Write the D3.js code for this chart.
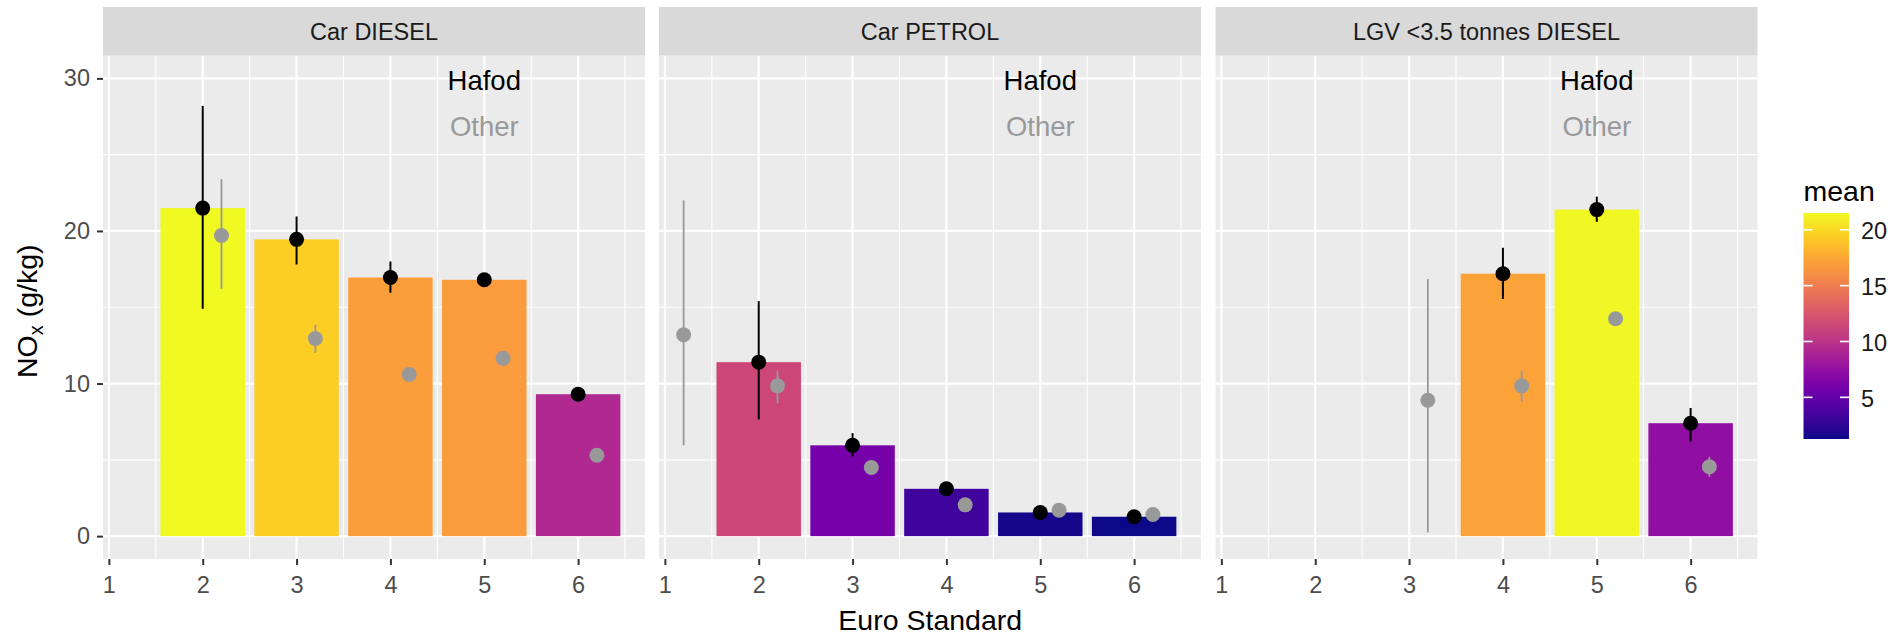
<!DOCTYPE html>
<html>
<head>
<meta charset="utf-8">
<script src="https://cdn.jsdelivr.net/npm/d3@7"></script>
<style>
  body { margin: 0; background: #fff; }
  text { font-family: "Liberation Sans", Arial, sans-serif; }
</style>
</head>
<body>
<svg id="chart" width="1902" height="635"></svg>
<script>
var facets = ['Car DIESEL', 'Car PETROL', 'LGV <3.5 tonnes DIESEL']
var euroStd = [1, 2, 3, 4, 5, 6]

// one row per facet, one entry per Euro standard, null = no data
var hafodMean = [
  [null, 21.5, 19.45, 16.95, 16.8, 9.3],
  [null, 11.4, 5.95, 3.1, 1.55, 1.27],
  [null, null, null, 17.2, 21.4, 7.4]
]
var hafodLow = [
  [null, 14.9, 17.8, 15.95, 16.5, 8.9],
  [null, 7.65, 5.2, 2.85, 1.4, 1.12],
  [null, null, null, 15.55, 20.6, 6.2]
]
var hafodHigh = [
  [null, 28.2, 20.95, 18.0, 17.1, 9.7],
  [null, 15.4, 6.75, 3.35, 1.7, 1.42],
  [null, null, null, 18.9, 22.25, 8.4]
]
var otherMean = [
  [null, 19.7, 12.95, 10.6, 11.65, 5.3],
  [13.2, 9.85, 4.5, 2.05, 1.7, 1.42],
  [null, null, 8.9, 9.85, 14.25, 4.55]
]
var otherLow = [
  [null, 16.2, 12.0, 10.35, 11.4, 5.05],
  [5.95, 8.7, 4.3, 1.85, 1.52, 1.27],
  [null, null, 0.25, 8.8, 14.0, 3.9]
]
var otherHigh = [
  [null, 23.4, 13.85, 10.85, 11.9, 5.55],
  [22.0, 10.85, 4.7, 2.25, 1.88, 1.57],
  [null, null, 16.85, 10.85, 14.5, 5.2]
]
var yTicks = [0, 10, 20, 30]
var yMinor = [5, 15, 25]
var xMinor = [1.5, 2.5, 3.5, 4.5, 5.5, 6.5]
var legendTicks = [5, 10, 15, 20]

var panelX = [103, 659, 1215.5]
var panelW = 542
var panelTop = 55.5
var panelBottom = 559
var stripTop = 7
var grey = '#999999'

var svg = d3.select('#chart')

var x = d3.scaleLinear().domain([0.9375, 6.7125]).range([0, panelW])
var y = d3.scaleLinear().domain([-1.5, 31.5]).range([panelBottom, panelTop])

var allMeans = d3.merge(hafodMean).filter(function (d) { return d !== null })
var meanExtent = d3.extent(allMeans)
var fill = d3.scaleSequential(d3.interpolatePlasma).domain(meanExtent)

function rows (i, means, lows, highs) {
  var out = []
  euroStd.forEach(function (e, j) {
    if (means[i][j] !== null) {
      out.push({ e: e, mean: means[i][j], lo: lows[i][j], hi: highs[i][j] })
    }
  })
  return out
}

facets.forEach(function (name, i) {
  var g = svg.append('g').attr('transform', 'translate(' + panelX[i] + ',0)')

  g.append('rect')
    .attr('x', 0).attr('y', panelTop)
    .attr('width', panelW).attr('height', panelBottom - panelTop)
    .attr('fill', '#EBEBEB')

  // minor grid
  g.selectAll('.vminor').data(xMinor).enter().append('line')
    .attr('x1', function (d) { return x(d) }).attr('x2', function (d) { return x(d) })
    .attr('y1', panelTop).attr('y2', panelBottom)
    .attr('stroke', '#fff').attr('stroke-width', 1.1)
  g.selectAll('.hminor').data(yMinor).enter().append('line')
    .attr('x1', 0).attr('x2', panelW)
    .attr('y1', function (d) { return y(d) }).attr('y2', function (d) { return y(d) })
    .attr('stroke', '#fff').attr('stroke-width', 1.1)
  // major grid
  g.selectAll('.vmajor').data(euroStd).enter().append('line')
    .attr('x1', function (d) { return x(d) }).attr('x2', function (d) { return x(d) })
    .attr('y1', panelTop).attr('y2', panelBottom)
    .attr('stroke', '#fff').attr('stroke-width', 2.2)
  g.selectAll('.hmajor').data(yTicks).enter().append('line')
    .attr('x1', 0).attr('x2', panelW)
    .attr('y1', function (d) { return y(d) }).attr('y2', function (d) { return y(d) })
    .attr('stroke', '#fff').attr('stroke-width', 2.2)

  // strip
  g.append('rect')
    .attr('x', 0).attr('y', stripTop)
    .attr('width', panelW).attr('height', panelTop - stripTop)
    .attr('fill', '#D9D9D9')
  g.append('text')
    .attr('x', panelW / 2).attr('y', 40)
    .attr('text-anchor', 'middle')
    .style('font-size', '23.5px')
    .attr('fill', '#1A1A1A')
    .text(name)

  // bars
  var hafod = rows(i, hafodMean, hafodLow, hafodHigh)
  var other = rows(i, otherMean, otherLow, otherHigh)

  g.selectAll('.bar').data(hafod).enter().append('rect')
    .attr('x', function (d) { return x(d.e - 0.45) })
    .attr('width', function (d) { return x(d.e + 0.45) - x(d.e - 0.45) })
    .attr('y', function (d) { return y(d.mean) })
    .attr('height', function (d) { return y(0) - y(d.mean) })
    .attr('fill', function (d) { return fill(d.mean) })

  // other pointranges
  g.selectAll('.oline').data(other).enter().append('line')
    .attr('x1', function (d) { return x(d.e + 0.2) }).attr('x2', function (d) { return x(d.e + 0.2) })
    .attr('y1', function (d) { return y(d.lo) }).attr('y2', function (d) { return y(d.hi) })
    .attr('stroke', grey).attr('stroke-width', 1.8)
  g.selectAll('.opt').data(other).enter().append('circle')
    .attr('cx', function (d) { return x(d.e + 0.2) })
    .attr('cy', function (d) { return y(d.mean) })
    .attr('r', 7.5)
    .attr('fill', grey)

  // hafod pointranges
  g.selectAll('.hline').data(hafod).enter().append('line')
    .attr('x1', function (d) { return x(d.e) }).attr('x2', function (d) { return x(d.e) })
    .attr('y1', function (d) { return y(d.lo) }).attr('y2', function (d) { return y(d.hi) })
    .attr('stroke', '#000').attr('stroke-width', 2)
  g.selectAll('.hpt').data(hafod).enter().append('circle')
    .attr('cx', function (d) { return x(d.e) })
    .attr('cy', function (d) { return y(d.mean) })
    .attr('r', 7.5)
    .attr('fill', '#000')

  // labels
  g.append('text')
    .attr('x', x(5)).attr('y', y(30) + 12)
    .attr('text-anchor', 'middle')
    .style('font-size', '27.5px')
    .attr('fill', '#000')
    .text('Hafod')
  g.append('text')
    .attr('x', x(5)).attr('y', y(27) + 12)
    .attr('text-anchor', 'middle')
    .style('font-size', '27.5px')
    .attr('fill', grey)
    .text('Other')

  // x axis
  var xa = g.append('g')
    .attr('transform', 'translate(0,' + panelBottom + ')')
    .call(d3.axisBottom(x).tickValues(euroStd).tickSize(6).tickPadding(11).tickFormat(d3.format('d')))
  xa.select('.domain').remove()
  xa.selectAll('line').attr('stroke', '#333333').attr('stroke-width', 2)
  xa.selectAll('text').style('font-size', '23.5px').attr('fill', '#4D4D4D')
    .style('font-family', '"Liberation Sans", Arial, sans-serif')

  if (i === 0) {
    var ya = g.append('g')
      .call(d3.axisLeft(y).tickValues(yTicks).tickSize(6).tickPadding(7))
    ya.select('.domain').remove()
    ya.selectAll('line').attr('stroke', '#333333').attr('stroke-width', 2)
    ya.selectAll('text').style('font-size', '23.5px').attr('fill', '#4D4D4D')
      .style('font-family', '"Liberation Sans", Arial, sans-serif')
  }
})

// axis titles
svg.append('text')
  .attr('x', (panelX[0] + panelX[2] + panelW) / 2).attr('y', 630)
  .attr('text-anchor', 'middle')
  .style('font-size', '28.5px')
  .text('Euro Standard')

var yt = svg.append('text')
  .attr('transform', 'translate(37,' + ((panelTop + panelBottom) / 2 + 4) + ') rotate(-90)')
  .attr('text-anchor', 'middle')
  .style('font-size', '28.5px')
yt.append('tspan').text('NO')
yt.append('tspan').attr('dy', 6).style('font-size', '20px').text('x')
yt.append('tspan').attr('dy', -6).text(' (g/kg)')

// colour bar legend
var legX = 1803.5
var legW = 45.5
var ly = d3.scaleLinear().domain(meanExtent).range([439, 213])

var grad = svg.append('defs').append('linearGradient')
  .attr('id', 'meangrad')
  .attr('x1', 0).attr('y1', 1).attr('x2', 0).attr('y2', 0)
d3.range(0, 1.0001, 0.05).forEach(function (t) {
  grad.append('stop')
    .attr('offset', t)
    .attr('stop-color', d3.interpolatePlasma(t))
})

svg.append('text')
  .attr('x', legX).attr('y', 201)
  .style('font-size', '28.5px')
  .text('mean')

svg.append('rect')
  .attr('x', legX).attr('y', ly(meanExtent[1]))
  .attr('width', legW).attr('height', ly(meanExtent[0]) - ly(meanExtent[1]))
  .attr('fill', 'url(#meangrad)')

svg.selectAll('.ltickl').data(legendTicks).enter().append('line')
  .attr('x1', legX).attr('x2', legX + 9)
  .attr('y1', function (d) { return ly(d) }).attr('y2', function (d) { return ly(d) })
  .attr('stroke', '#fff').attr('stroke-width', 1.6)
svg.selectAll('.ltickr').data(legendTicks).enter().append('line')
  .attr('x1', legX + legW - 9).attr('x2', legX + legW)
  .attr('y1', function (d) { return ly(d) }).attr('y2', function (d) { return ly(d) })
  .attr('stroke', '#fff').attr('stroke-width', 1.6)
svg.selectAll('.llab').data(legendTicks).enter().append('text')
  .attr('x', 1861).attr('y', function (d) { return ly(d) + 1.5 })
  .attr('dy', '0.35em')
  .style('font-size', '23.5px')
  .attr('fill', '#1A1A1A')
  .text(function (d) { return d })
</script>
</body>
</html>
